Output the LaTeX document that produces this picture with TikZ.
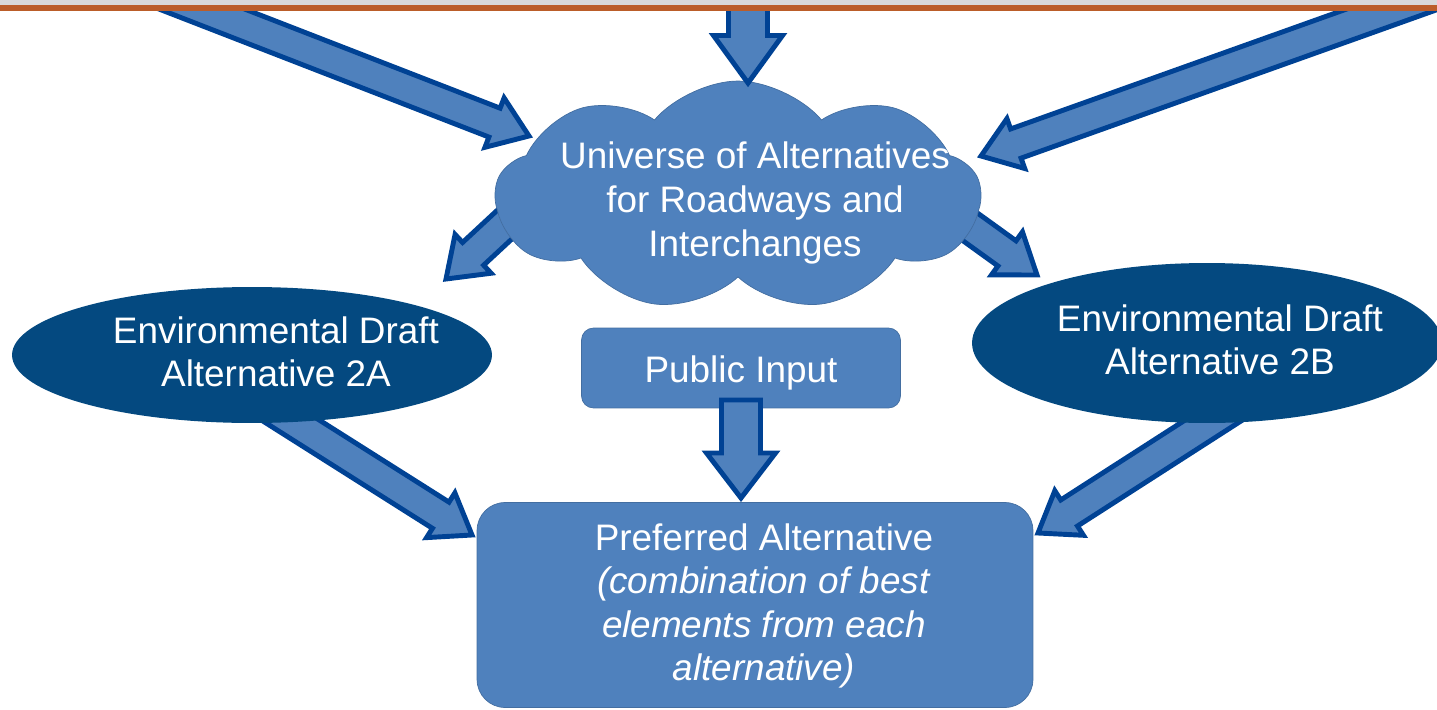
\documentclass[tikz,border=0pt]{standalone}
\usepackage{fontspec}
\setmainfont{Liberation Sans}
\usepackage{tikz}
\usetikzlibrary{shapes,shapes.symbols,calc,positioning}
\definecolor{midblue}{RGB}{79,129,189}
\definecolor{edgeblue}{RGB}{0,66,148}
\definecolor{navy}{RGB}{4,73,128}
\definecolor{rust}{RGB}{187,93,41}
\tikzset{cloud node/.style={cloud,cloud puffs=9,cloud puff arc=100,aspect=2.1,fill=midblue,draw=midblue!85!black,minimum width=9.7cm,minimum height=4.6cm,inner sep=0pt},}
\tikzset{alt node/.style={ellipse,fill=navy,draw=none,inner sep=0pt},}
\tikzset{block/.style={rectangle,fill=midblue,draw=midblue!85!black,inner sep=0pt},}
\tikzset{txt/.style={text=white,align=center,font=\fontsize{21}{24.8}\selectfont},}
\tikzset{fat arrow/.style={fill=midblue,draw=edgeblue,line width=2.8pt,line join=miter},}
% fat arrow: from, to, shaft half width, head half width, head length
\newcommand{\fatarrow}[5]{%
  \coordinate (neck) at ($(#2)!#5!(#1)$);
  \draw[fat arrow] ($(#1)!#3!90:(#2)$) -- ($(neck)!#3!-90:(#1)$) -- ($(neck)!#4!-90:(#1)$) -- (#2)
    -- ($(neck)!#4!90:(#1)$) -- ($(neck)!#3!90:(#1)$) -- ($(#1)!#3!-90:(#2)$) -- cycle;}

\begin{document}
\begin{tikzpicture}[x=0.02cm,y=-0.02cm]
  \useasboundingbox (0,0) rectangle (1437,710);

  % end points of the fat arrows
  \coordinate (tl) at (127,-20);
  \coordinate (tlTip) at (529,136);
  \coordinate (tm) at (748,-20);
  \coordinate (tmTip) at (748,83);
  \coordinate (tr) at (1474,-20);
  \coordinate (trTip) at (981,156);
  \coordinate (uA) at (530,201);
  \coordinate (uATip) at (446,279);
  \coordinate (uB) at (944,208);
  \coordinate (uBTip) at (1037,275);
  \coordinate (aP) at (227,380);
  \coordinate (aPTip) at (472,535);
  \coordinate (bP) at (1259,391);
  \coordinate (bPTip) at (1038,533);
  \coordinate (pP) at (741,400);
  \coordinate (pPTip) at (741,498);

  % arrows behind the shapes
  \fatarrow{uA}{uATip}{0.31cm}{0.53cm}{0.74cm}
  \fatarrow{uB}{uBTip}{0.31cm}{0.53cm}{0.74cm}
  \fatarrow{aP}{aPTip}{0.31cm}{0.53cm}{0.74cm}
  \fatarrow{bP}{bPTip}{0.31cm}{0.53cm}{0.74cm}

  \node[cloud node] (univ) at (738,196) {};
  \node[txt] (univText) at (755,203) {Universe of Alternatives\\for Roadways and\\Interchanges};

  \node[alt node,minimum width=9.6cm,minimum height=2.72cm] (altA) at (252,355) {};
  \node[txt] (altAText) at (276,352) {Environmental Draft\\Alternative 2A};
  \node[alt node,minimum width=9.4cm,minimum height=3.2cm] (altB) at (1207,343) {};
  \node[txt] (altBText) at (1220,340) {Environmental Draft\\Alternative 2B};

  \node[block,rounded corners=0.24cm,minimum width=6.38cm,minimum height=1.6cm] (pub) at (741,368) {};
  \node[txt] (pubText) at (741,373) {Public Input};

  \node[block,rounded corners=0.56cm,minimum width=11.12cm,minimum height=4.1cm] (pref) at (755,605) {};
  \node[txt] (prefText) at (764,606) {Preferred Alternative\\\textit{(combination of best}\\\textit{elements from each}\\\textit{alternative)}};

  % arrows in front
  \fatarrow{tl}{tlTip}{0.31cm}{0.53cm}{0.74cm}
  \fatarrow{tr}{trTip}{0.31cm}{0.53cm}{0.74cm}
  \fatarrow{tm}{tmTip}{0.39cm}{0.69cm}{0.95cm}
  \fatarrow{pP}{pPTip}{0.39cm}{0.69cm}{0.9cm}

  % top band
  \fill[black!15] (0,-5) rectangle (1437,5.3);
  \fill[rust] (0,5.3) rectangle (1437,10.5);
\end{tikzpicture}
\end{document}
